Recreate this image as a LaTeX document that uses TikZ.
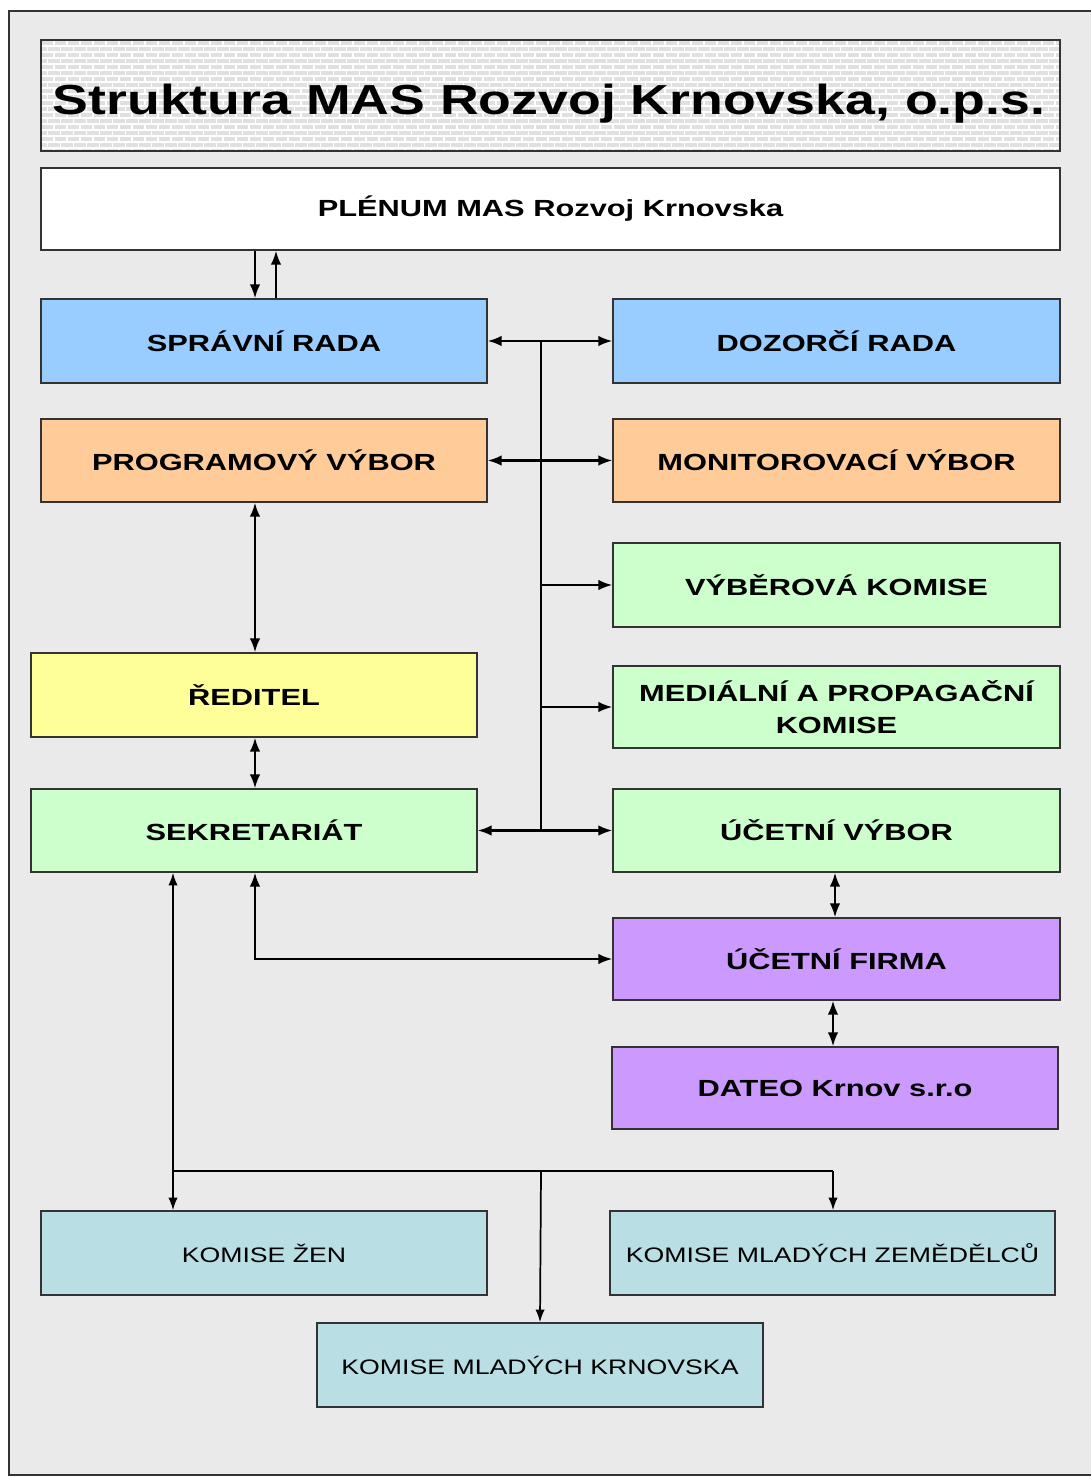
\documentclass[tikz,border=0pt]{standalone}
\usepackage{fontspec}
\setmainfont{Liberation Sans}
\newfontfamily\titlefont{Liberation Sans}[FakeStretch=1.277]
\newfontfamily\boxfont{Liberation Sans}[FakeStretch=1.32]
\newfontfamily\komfont{Liberation Sans}[FakeStretch=1.27]
\usetikzlibrary{arrows.meta}
\definecolor{bgc}{HTML}{EAEAEA}
\definecolor{brick}{HTML}{E0E0E0}
\definecolor{cblue}{HTML}{99CCFF}
\definecolor{corange}{HTML}{FFCC99}
\definecolor{cgreen}{HTML}{CCFFCC}
\definecolor{cyellow}{HTML}{FFFF99}
\definecolor{cpurple}{HTML}{CC99FF}
\definecolor{cteal}{HTML}{B9DEE4}
\definecolor{edge}{HTML}{333333}
\tikzset{
  box/.style={draw=edge, line width=1.1pt, inner sep=0pt, align=center,
    font=\boxfont\bfseries\fontsize{17.5pt}{24.5pt}\selectfont},
  kbox/.style={box, fill=cteal, font=\komfont\fontsize{15.75pt}{20pt}\selectfont},
  conn/.style={line width=1.6pt, draw=black},
  arr/.style={conn, -{Latex[length=10.5pt,width=8pt]}},
  darr/.style={conn, {Latex[length=10.5pt,width=8pt]}-{Latex[length=10.5pt,width=8pt]}},
  sarr/.style={line width=1.3pt, -{Latex[length=9.5pt,width=7pt]}},
  sline/.style={line width=1.3pt}
}
\newcommand\bx[8]{\node[#8, fill=#6, minimum width={(#4-#2)*0.75pt}, minimum height={(#5-#3)*0.75pt}] (#1) at ({(#2+#4)/2},{(#3+#5)/2}) {#7};}
\begin{document}
\begin{tikzpicture}[x=0.75pt,y=-0.75pt]
\useasboundingbox (0,0) rectangle (1091,1477);
\clip (0,0) rectangle (1091,1477);
\fill[white] (0,0) rectangle (1091,1477);
% outer frame
\draw[fill=bgc, draw=edge, line width=1.3pt] (9,11) rectangle (1110,1475);
% title with brick pattern
\begin{scope}
  \clip (41,40) rectangle (1060,151);
  \fill[brick] (41,40) rectangle (1060,151);
  \foreach \r in {0,...,18} {
    \draw[white, line width=1pt] (41,{40+6*\r}) -- (1060,{40+6*\r});
    \pgfmathsetmacro\off{mod(\r,2)*6.5}
    \foreach \c in {0,...,79} {
      \draw[white, line width=1pt] ({41+\off+13*\c},{40+6*\r}) -- ({41+\off+13*\c},{46+6*\r});
    }
  }
\end{scope}
\node[draw=edge, line width=1.1pt, minimum width={1019*0.75pt}, minimum height={111*0.75pt}, inner sep=0pt] (title) at (550.5,95.5) {};
\node[inner sep=0pt, anchor=base, font=\titlefont\bfseries\fontsize{31.5pt}{36pt}\selectfont] (titletext) at (549,114) {Struktura MAS Rozvoj Krnovska, o.p.s.};
% boxes
\bx{plenum}{41}{168}{1060}{250}{white}{PLÉNUM MAS Rozvoj Krnovska}{box}
\bx{spr}{41}{299}{487}{383}{cblue}{SPRÁVNÍ RADA}{box}
\bx{doz}{613}{299}{1060}{383}{cblue}{DOZORČÍ RADA}{box}
\bx{prog}{41}{419}{487}{502}{corange}{PROGRAMOVÝ VÝBOR}{box}
\bx{mon}{613}{419}{1060}{502}{corange}{MONITOROVACÍ VÝBOR}{box}
\bx{vyb}{613}{543}{1060}{627}{cgreen}{VÝBĚROVÁ KOMISE}{box}
\bx{med}{613}{666}{1060}{748}{cgreen}{MEDIÁLNÍ A PROPAGAČNÍ\\KOMISE}{box}
\bx{red}{31}{653}{477}{737}{cyellow}{ŘEDITEL}{box}
\bx{sek}{31}{789}{477}{872}{cgreen}{SEKRETARIÁT}{box}
\bx{ucv}{613}{789}{1060}{872}{cgreen}{ÚČETNÍ VÝBOR}{box}
\bx{ucf}{613}{918}{1060}{1000}{cpurple}{ÚČETNÍ FIRMA}{box}
\bx{dat}{612}{1047}{1058}{1129}{cpurple}{DATEO Krnov s.r.o}{box}
\bx{zen}{41}{1211}{487}{1295}{cteal}{KOMISE ŽEN}{kbox}
\bx{zem}{610}{1211}{1055}{1295}{cteal}{KOMISE MLADÝCH ZEMĚDĚLCŮ}{kbox}
\bx{krn}{317}{1323}{763}{1407}{cteal}{KOMISE MLADÝCH KRNOVSKA}{kbox}
% helper coordinates
\coordinate (xa) at (255,0);
\coordinate (xb) at (276,0);
\coordinate (xt) at (541,0);
\coordinate (xs) at (173,0);
\coordinate (xf) at (835,0);
\coordinate (xg) at (833,0);
\coordinate (bus) at (541,1171);
% connectors
\draw[arr] (plenum.south -| xa) -- (spr.north -| xa);
\draw[arr] (spr.north -| xb) -- (plenum.south -| xb);
\draw[conn] (spr.east -| xt) -- (sek.east -| xt);
\draw[darr] (spr.east) -- (doz.west);
\draw[darr] (prog.east) -- (mon.west);
\draw[arr] (vyb.west -| xt) -- (vyb.west);
\draw[arr] (med.west -| xt) -- (med.west);
\draw[darr] (sek.east) -- (ucv.west);
\draw[darr] (prog.south -| xa) -- (red.north -| xa);
\draw[darr] (red.south -| xa) -- (sek.north -| xa);
\draw[darr] (ucv.south -| xf) -- (ucf.north -| xf);
\draw[darr] (ucf.south -| xg) -- (dat.north -| xg);
\draw[darr] (sek.south -| xa) |- (ucf.west);
\draw[sarr] (bus -| xs) -- (sek.south -| xs);
\draw[sarr] (bus -| xs) -- (zen.north -| xs);
\draw[sline] (bus -| xs) -- (bus -| xg);
\draw[sarr] (bus -| xg) -- (zem.north -| xg);
\draw[sarr] (bus) -- (krn.north);
\end{tikzpicture}
\end{document}
